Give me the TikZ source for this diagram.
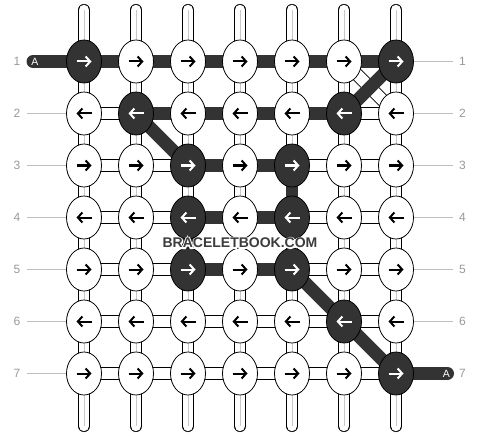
\documentclass[tikz,border=0pt]{standalone}
\usepackage{fontspec}
\setmainfont{Liberation Sans}
\usetikzlibrary{shapes.geometric,arrows.meta}
\definecolor{knotdark}{HTML}{333333}
\definecolor{lbltext}{HTML}{999999}
\definecolor{lblline}{HTML}{C0C0C0}
\definecolor{tubeline}{HTML}{C8C8C8}
\definecolor{wmark}{HTML}{3C3C3C}
\pgfdeclarelayer{strandlayer}
\pgfdeclarelayer{connlayer}
\pgfsetlayers{strandlayer,connlayer,main}
\begin{document}
\begin{tikzpicture}[x=1pt,y=-1pt,
  knot/.style={ellipse, minimum width=35pt, minimum height=43pt, inner sep=0pt, draw=black, line width=0.8pt, fill=white},
  darkknot/.style={knot, fill=knotdark},
  arr/.style={line width=2pt, -{Straight Barb[length=4.5pt,width=10pt]}},
  tube/.style={draw=black, line width=0.8pt, double=white, double distance=10.5pt, line cap=round},
  tubemid/.style={draw=tubeline, line width=0.9pt},
  whiteconn/.style={draw=black, line width=0.8pt, double=white, double distance=11.5pt},
  darkconn/.style={draw=knotdark, line width=13pt},
  darkvert/.style={draw=knotdark, line width=12pt},
  lblline/.style={draw=lblline, line width=0.9pt},
  lbl/.style={text=lbltext, font=\fontsize{12}{12}\selectfont, inner sep=0pt},
  atext/.style={text=white, font=\fontsize{10.5}{10.5}\selectfont, inner sep=0pt},
  wm/.style={font=\fontsize{14}{14}\selectfont\bfseries, inner sep=0pt}
]
\useasboundingbox (0,0) rectangle (480,436);

% dark knots, dark horizontal connectors
\foreach \r/\c in {1/1,1/7,2/2,2/6,3/3,3/5,4/3,4/5,5/3,5/5,6/6,7/7}{\expandafter\gdef\csname dk-\r-\c\endcsname{1}}
\foreach \r/\c in {1/1,1/2,1/3,1/4,1/5,1/6,2/2,2/3,2/4,2/5,3/3,3/4,4/3,4/4,5/3,5/4}{\expandafter\gdef\csname hd-\r-\c\endcsname{1}}

% knots
\foreach \r in {1,...,7}{
  \foreach \c in {1,...,7}{
    \pgfmathsetmacro\xx{84+52*(\c-1)}
    \pgfmathsetmacro\yy{61.5+52*(\r-1)}
    \ifcsname dk-\r-\c\endcsname \def\ks{darkknot}\def\ac{white}\else\def\ks{knot}\def\ac{black}\fi
    \node[\ks] (k-\r-\c) at (\xx,\yy) {};
    \ifodd\r
      \draw[arr,\ac] ([xshift=-7.5pt]k-\r-\c.center) -- ([xshift=7.5pt]k-\r-\c.center);
    \else
      \draw[arr,\ac] ([xshift=7.5pt]k-\r-\c.center) -- ([xshift=-7.5pt]k-\r-\c.center);
    \fi
  }
}

% vertical strands
\begin{pgfonlayer}{strandlayer}
\foreach \c in {1,...,7}{
  \pgfmathsetmacro\xx{84+52*(\c-1)}
  \coordinate (top-\c) at (\xx,10);
  \coordinate (bot-\c) at (\xx,426);
  \draw[tube] (top-\c) -- (bot-\c);
  \draw[tubemid] (top-\c) -- (bot-\c);
}
\end{pgfonlayer}

% connectors
\begin{pgfonlayer}{connlayer}
% white diagonal (crossing)
\draw[whiteconn] (k-1-6.center) -- (k-2-7.center);
% horizontal connectors
\foreach \r in {1,...,7}{
  \foreach \c [evaluate=\c as \n using int(\c+1)] in {1,...,6}{
    \ifcsname hd-\r-\c\endcsname
      \draw[darkconn] (k-\r-\c.center) -- (k-\r-\n.center);
    \else
      \draw[whiteconn] (k-\r-\c.center) -- (k-\r-\n.center);
    \fi
  }
}
% dark verticals
\draw[darkvert] (k-3-5.center) -- (k-4-5.center);
\draw[darkvert] (k-4-3.center) -- (k-5-3.center);
% dark diagonals
\draw[darkconn] (k-1-7.center) -- (k-2-6.center);
\draw[darkconn] (k-2-2.center) -- (k-3-3.center);
\draw[darkconn] (k-5-5.center) -- (k-6-6.center);
\draw[darkconn] (k-6-6.center) -- (k-7-7.center);
% strand A in and out
\coordinate (a-in) at (33,61.5);
\coordinate (a-out) at (447.5,373.5);
\draw[darkconn, line cap=round] (a-in) -- (k-1-1.center);
\draw[darkconn, line cap=round] (k-7-7.center) -- (a-out);
\end{pgfonlayer}
\node[atext] (a-lbl-in) at (34.8,61.5) {A};
\node[atext] (a-lbl-out) at (446.3,373.5) {A};

% row labels
\foreach \r in {1,...,7}{
  \pgfmathsetmacro\yy{61.5+52*(\r-1)}
  \node[lbl] (ll-\r) at (17,\yy) {\r};
  \node[lbl] (lr-\r) at (462.5,\yy) {\r};
  \coordinate (lls-\r) at (27,\yy);
  \coordinate (lre-\r) at (453,\yy);
}
\foreach \r in {2,...,7}{\draw[lblline] (lls-\r) -- (k-\r-1.west);}
\foreach \r in {1,...,6}{\draw[lblline] (k-\r-7.east) -- (lre-\r);}

% watermark: white outlined halo, then the dark text
\coordinate (wmc) at (240,243);
\node[wm, text=white] (wmhalo) at (wmc) {\special{pdf:literal direct 2 Tr 2.4 w 1 1 1 RG}BRACELETBOOK.COM\special{pdf:literal direct 0 Tr 1 w}};
\node[wm, text=wmark] (wmark) at (wmc) {BRACELETBOOK.COM};
\end{tikzpicture}
\end{document}
